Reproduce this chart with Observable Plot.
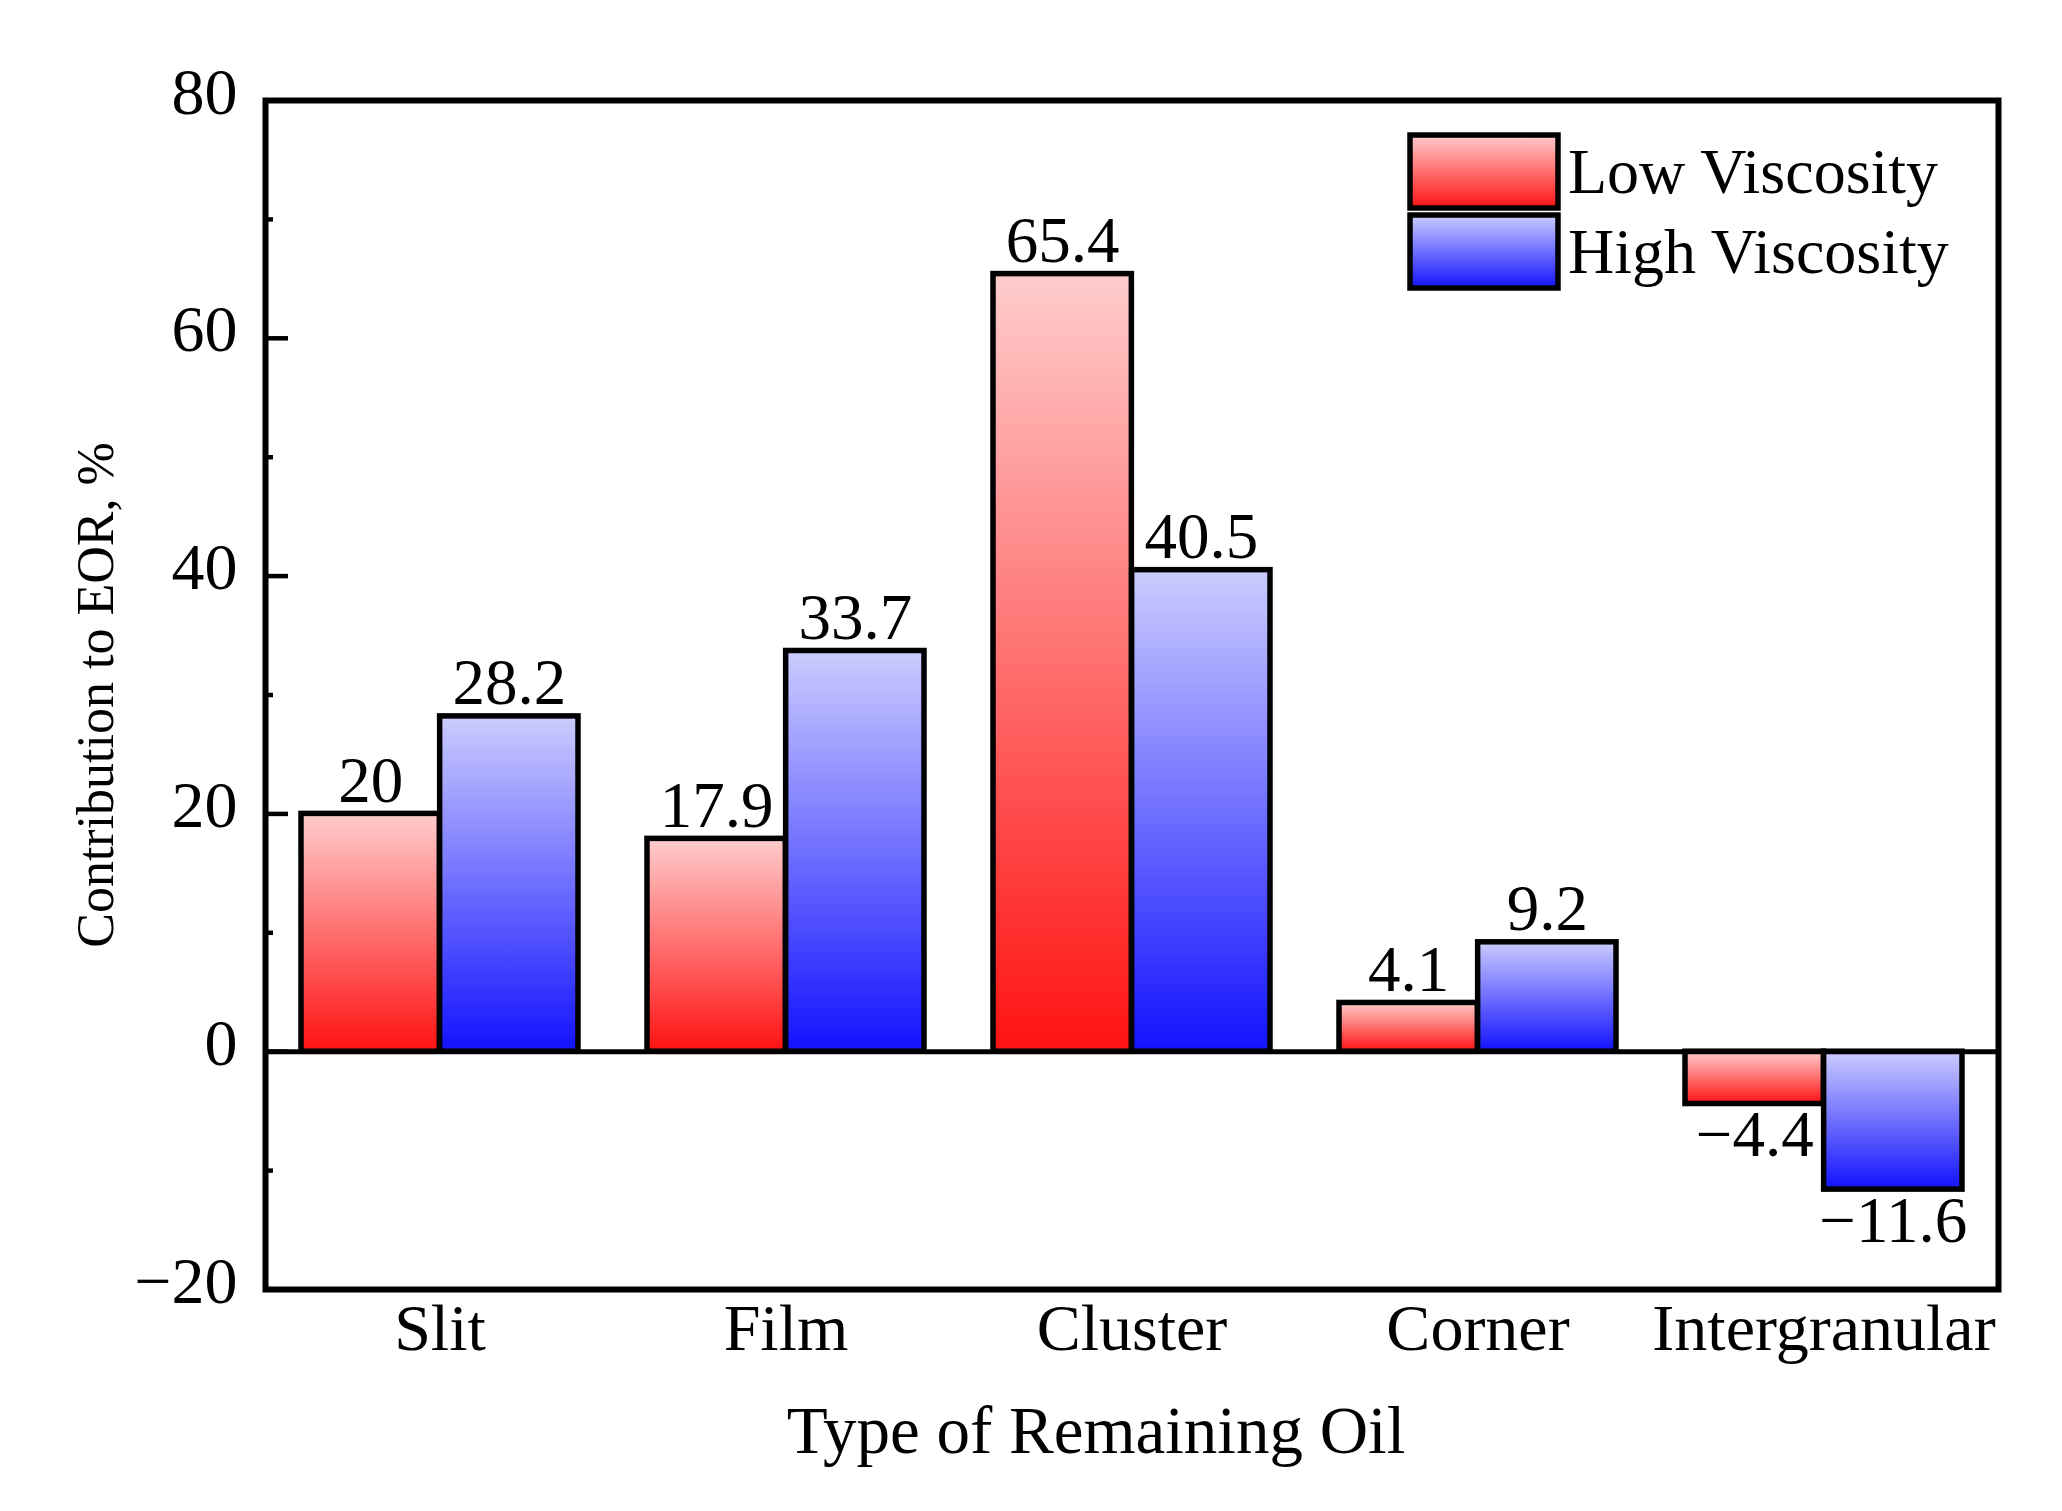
<!DOCTYPE html>
<html><head><meta charset="utf-8">
<script src="https://cdn.jsdelivr.net/npm/d3@7"></script>
<script src="https://cdn.jsdelivr.net/npm/@observablehq/plot@0.6"></script>
<style>body{margin:0;background:#fff;} svg{display:block;}</style>
</head><body><div id="chart"></div>
<script>
const categories = ["Slit", "Film", "Cluster", "Corner", "Intergranular"];
const series = ["Low Viscosity", "High Viscosity"];
const lowValues = [20, 17.9, 65.4, 4.1, -4.4];
const highValues = [28.2, 33.7, 40.5, 9.2, -11.6];
const yTicks = [-20, 0, 20, 40, 60, 80];
const yMinorTicks = [-10, 10, 30, 50, 70];
const xTitle = "Type of Remaining Oil";
const yTitle = "Contribution to EOR, %";

const low = categories.map((c, i) => ({category: c, series: series[0], value: lowValues[i]}));
const high = categories.map((c, i) => ({category: c, series: series[1], value: highValues[i]}));

const W = 2062, H = 1511, mL = 265, mR = 64, mT = 100, mB = 222;
const plotW = W - mL - mR;
const band = plotW / categories.length * 0.8;
const half = band / 2;
const fmt = v => String(v).replace("-", "\u2212");
const font = "'Liberation Serif', 'Times New Roman', serif";
const NS = "http://www.w3.org/2000/svg";

const defsMark = () => {
  const defs = document.createElementNS(NS, "defs");
  defs.innerHTML = `
    <linearGradient id="gradLow" x1="0" y1="0" x2="0" y2="1">
      <stop offset="0" stop-color="#ffcccc"/><stop offset="1" stop-color="#ff1212"/>
    </linearGradient>
    <linearGradient id="gradHigh" x1="0" y1="0" x2="0" y2="1">
      <stop offset="0" stop-color="#ccccff"/><stop offset="1" stop-color="#1212ff"/>
    </linearGradient>`;
  return defs;
};

const legendMark = (index, scales, values, dim) => {
  const g = document.createElementNS(NS, "g");
  const x0 = dim.width - dim.marginRight - 588;
  const y0 = dim.marginTop + 35;
  const grads = ["url(#gradLow)", "url(#gradHigh)"];
  series.forEach((s, i) => {
    const y = y0 + i * 80;
    const r = document.createElementNS(NS, "rect");
    r.setAttribute("x", x0); r.setAttribute("y", y);
    r.setAttribute("width", 148); r.setAttribute("height", 73);
    r.setAttribute("fill", grads[i]); r.setAttribute("stroke", "black"); r.setAttribute("stroke-width", 5.5);
    g.appendChild(r);
    const t = document.createElementNS(NS, "text");
    t.setAttribute("x", x0 + 158); t.setAttribute("y", y + 58);
    t.setAttribute("text-anchor", "start");
    t.setAttribute("font-size", 64); t.setAttribute("font-family", font); t.setAttribute("fill", "black");
    t.textContent = s;
    g.appendChild(t);
  });
  return g;
};

const chart = Plot.plot({
  width: W, height: H,
  marginLeft: mL, marginRight: mR, marginTop: mT, marginBottom: mB,
  style: {fontFamily: font, fontSize: "65px", color: "black", background: "white"},
  x: {domain: categories, paddingInner: 0.2, paddingOuter: 0.1},
  y: {domain: [-20, 80]},
  marks: [
    defsMark,
    Plot.barY(low, {x: "category", y: "value", fill: "url(#gradLow)", stroke: "black", strokeWidth: 5.5, insetRight: half}),
    Plot.barY(high, {x: "category", y: "value", fill: "url(#gradHigh)", stroke: "black", strokeWidth: 5.5, insetLeft: half}),
    Plot.ruleY([0], {stroke: "black", strokeWidth: 5}),
    Plot.ruleY(yTicks.filter(v => v > -20 && v < 80), {stroke: "black", strokeWidth: 4.5, insetRight: plotW - 23}),
    Plot.ruleY(yMinorTicks, {stroke: "black", strokeWidth: 4.5, insetRight: plotW - 8}),
    Plot.frame({stroke: "black", strokeWidth: 6}),
    Plot.axisY({ticks: yTicks, tickSize: 0, tickPadding: 28, fontSize: 66, dy: -8, label: null}),
    Plot.axisX({tickSize: 0, tickPadding: 14, fontSize: 66, label: null}),
    Plot.text(low.filter(d => d.value >= 0), {x: "category", y: "value", text: d => fmt(d.value), dx: -half / 2, dy: -12, lineAnchor: "bottom", fontSize: 65}),
    Plot.text(high.filter(d => d.value >= 0), {x: "category", y: "value", text: d => fmt(d.value), dx: half / 2, dy: -12, lineAnchor: "bottom", fontSize: 65}),
    Plot.text(low.filter(d => d.value < 0), {x: "category", y: "value", text: d => fmt(d.value), dx: -half / 2, dy: 6, lineAnchor: "top", fontSize: 65}),
    Plot.text(high.filter(d => d.value < 0), {x: "category", y: "value", text: d => fmt(d.value), dx: half / 2, dy: 6, lineAnchor: "top", fontSize: 65}),
    Plot.text([xTitle], {frameAnchor: "bottom", text: d => d, dy: 163, dx: -36, lineAnchor: "bottom", fontSize: 67}),
    Plot.text([yTitle], {frameAnchor: "left", textAnchor: "middle", text: d => d, dx: -169, rotate: -90, fontSize: 52}),
    legendMark
  ]
});
document.getElementById("chart").appendChild(chart);
</script>
</body></html>
